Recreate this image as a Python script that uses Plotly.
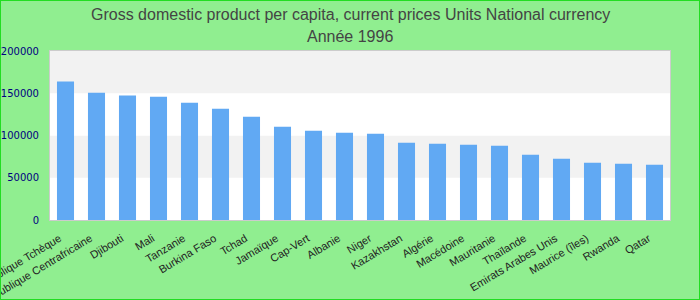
import plotly.graph_objects as go

countries = ["République Tchèque", "République Centrafricaine", "Djibouti", "Mali", "Tanzanie",
             "Burkina Faso", "Tchad", "Jamaïque", "Cap-Vert", "Albanie", "Niger", "Kazakhstan",
             "Algérie", "Macédoine", "Mauritanie", "Thaïlande", "Emirats Arabes Unis",
             "Maurice (îles)", "Rwanda", "Qatar"]
values = [163800, 150700, 147200, 146000, 138900, 131800, 122300, 110400, 105600, 103300,
          102100, 91400, 90200, 89000, 87800, 77200, 72400, 67700, 66500, 65300]
y_ticks = [0, 50000, 100000, 150000, 200000]
title_lines = ["Gross domestic product per capita, current prices Units National currency", "Année 1996"]

fig = go.Figure(go.Bar(x=countries, y=values, marker=dict(color="#61a9f3", line=dict(width=0))))

W, H, ml, mr, mt, mb = 700, 300, 50, 30, 51, 80
pw, ph = W - ml - mr, H - mt - mb

shapes = []
for i in range(len(y_ticks) - 1):
    shapes.append(dict(type="rect", xref="paper", yref="y", x0=0, x1=1,
                       y0=y_ticks[i], y1=y_ticks[i + 1], layer="below", line=dict(width=0),
                       fillcolor="#ffffff" if i % 2 == 0 else "#f2f2f2"))
# outer figure border
shapes.append(dict(type="rect", xref="paper", yref="paper",
                   x0=-ml / pw, x1=1 + mr / pw, y0=-mb / ph, y1=1 + mt / ph,
                   line=dict(color="#22dd22", width=2), layer="above"))

annotations = []
for text, ypix in zip(title_lines, [14, 36]):
    annotations.append(dict(text=text, xref="paper", yref="paper",
                            x=(W / 2 - ml) / pw, y=(H - mb - ypix) / ph,
                            xanchor="center", yanchor="middle", showarrow=False,
                            font=dict(family="Liberation Sans, Arial", size=16, color="#444444")))

fig.update_layout(
    width=W, height=H,
    margin=dict(l=ml, r=mr, t=mt, b=mb, autoexpand=False),
    paper_bgcolor="#90ee90", plot_bgcolor="#ffffff",
    bargap=0.45,
    showlegend=False,
    shapes=shapes,
    annotations=annotations,
    xaxis=dict(showgrid=False, tickangle=-31, ticks="", automargin=False,
               ticklabelstandoff=7, ticklabelshift=-6,
               tickfont=dict(family="Liberation Sans, Arial", size=11, color="#222222"),
               showline=True, linecolor="#cccccc", linewidth=1, mirror=True),
    yaxis=dict(range=[0, 200000], tickvals=y_ticks, ticktext=[str(v) for v in y_ticks],
               showgrid=False, zeroline=False,
               ticks="outside", ticklen=8, tickcolor="rgba(0,0,0,0)", automargin=False,
               tickfont=dict(family="DejaVu Sans", size=10, color="#000080"),
               showline=True, linecolor="#cccccc", linewidth=1, mirror=True),
)

fig.write_html("out.html")
